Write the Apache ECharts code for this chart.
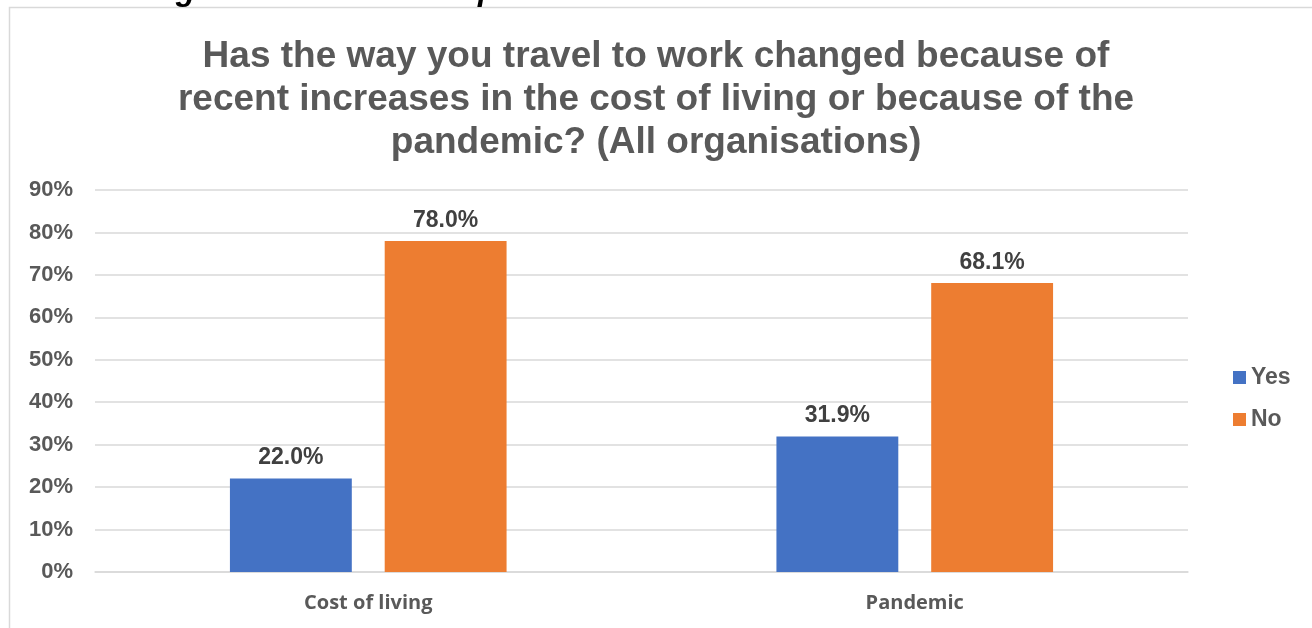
<!DOCTYPE html>
<html>
<head>
<meta charset="utf-8">
<script src="https://cdn.jsdelivr.net/npm/echarts@6/dist/echarts.min.js"></script>
<style>html,body{margin:0;padding:0;background:#fff;}#c{width:1312px;height:628px;}</style>
</head>
<body>
<div id="c"></div>
<script>
const categories = ['Cost of living', 'Pandemic'];
const yesValues = [22.0, 31.9];
const noValues = [78.0, 68.1];
const seriesNames = ['Yes', 'No'];
const titleText = 'Has the way you travel to work changed because of\nrecent increases in the cost of living or because of the\npandemic? (All organisations)';
const headingText = 'cost of living or because of the pandemic?';

const chart = echarts.init(document.getElementById('c'));
const labelStyle = {
  show: true, position: 'top', distance: 9,
  formatter: p => p.value.toFixed(1) + '%',
  fontFamily: 'Liberation Sans, Arial', fontWeight: 'bold', fontSize: 23, color: '#404040'
};
chart.setOption({
  backgroundColor: '#fff',
  graphic: [
    { type: 'rect', shape: { x: 9.5, y: 7.5, width: 1340, height: 640 }, style: { fill: 'none', stroke: '#d9d9d9', lineWidth: 1.5 }, z: -1 },
    { type: 'text', x: -2, y: -25, style: { text: headingText, font: 'italic bold 32px "Liberation Sans", Arial', fill: '#000' } }
  ],
  title: {
    text: titleText, left: 'center', top: 35, padding: 0,
    textStyle: { fontFamily: 'Liberation Sans, Arial', fontWeight: 'bold', fontSize: 37, lineHeight: 43, color: '#595959' }
  },
  legend: {
    orient: 'vertical', left: 1228, top: 361, itemWidth: 13, itemHeight: 13, itemGap: 19, itemTextGap: 5,
    icon: 'rect', data: seriesNames,
    textStyle: { fontFamily: 'Liberation Sans, Arial', fontWeight: 'bold', fontSize: 23, color: '#595959' }
  },
  grid: { left: 95, right: 124, top: 190, bottom: 56 },
  xAxis: {
    type: 'category', data: categories,
    axisLine: { lineStyle: { color: '#d9d9d9', width: 1.5 } }, axisTick: { show: false },
    axisLabel: { margin: 21, fontFamily: 'Open Sans', fontWeight: 'bold', fontSize: 20, color: '#595959' }
  },
  yAxis: {
    type: 'value', min: 0, max: 90, interval: 10,
    axisLine: { show: false }, axisTick: { show: false },
    splitLine: { lineStyle: { color: '#d9d9d9', width: 1.5 } },
    axisLabel: { margin: 22, formatter: '{value}%', fontFamily: 'Liberation Sans, Arial', fontWeight: 'bold', fontSize: 22, color: '#595959' }
  },
  series: [
    { name: seriesNames[0], type: 'bar', data: yesValues, barWidth: '22.3%', barGap: '27%', itemStyle: { color: '#4472C4' }, label: labelStyle },
    { name: seriesNames[1], type: 'bar', data: noValues, barWidth: '22.3%', barGap: '27%', itemStyle: { color: '#ED7D31' }, label: labelStyle }
  ]
});
</script>
</body>
</html>
